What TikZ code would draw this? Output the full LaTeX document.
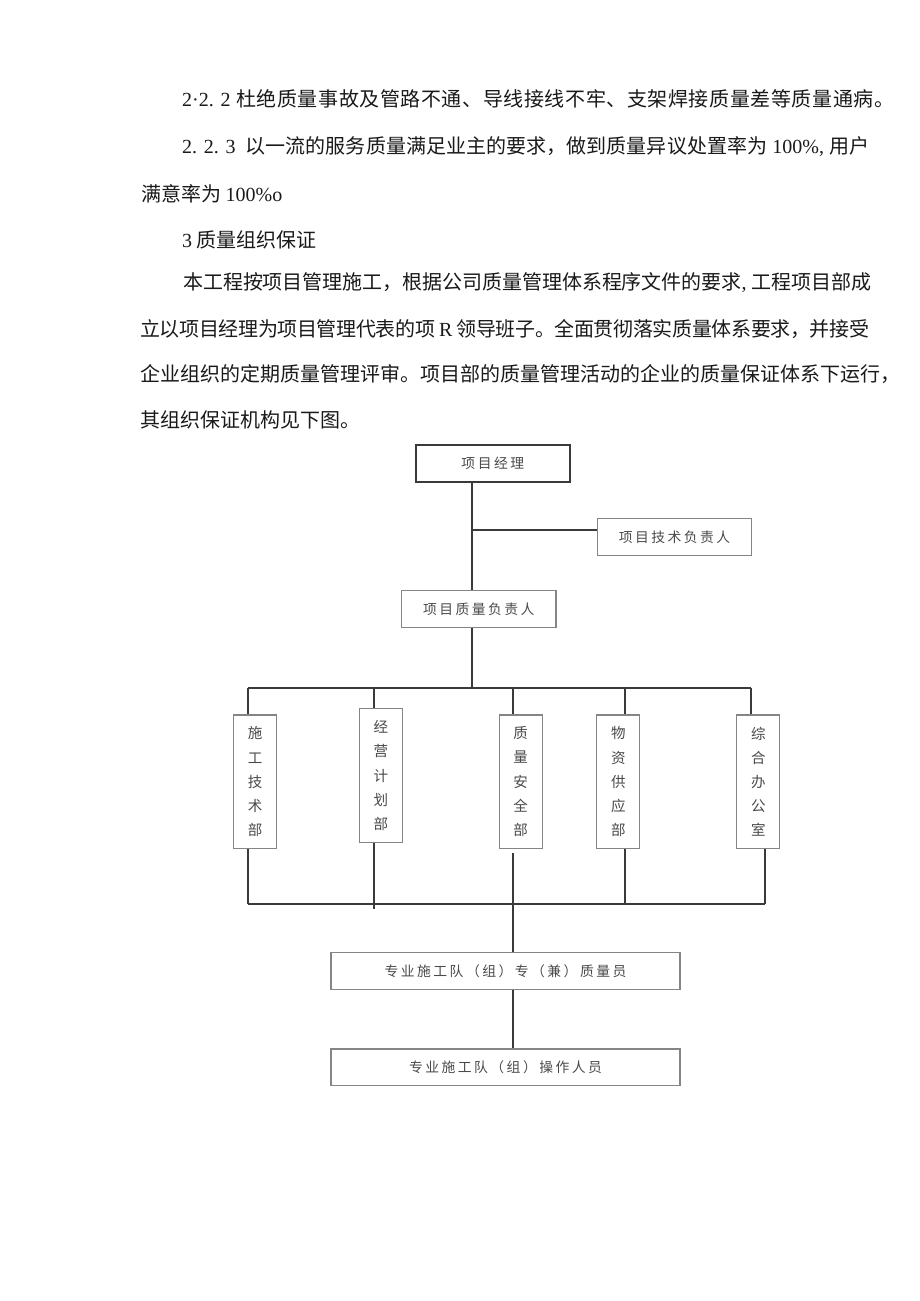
\documentclass[tikz,border=0pt]{standalone}
\usepackage{fontspec}
\newfontfamily\cjk{Noto Sans CJK SC}
\newfontfamily\chartfont[LetterSpace=18]{Noto Sans CJK SC}
\newfontfamily\lat{Liberation Serif}
\definecolor{txt}{HTML}{1A1A1A}
\definecolor{ctxt}{HTML}{4A4A4A}
\definecolor{line}{HTML}{3A3A3A}
\definecolor{bord}{HTML}{858585}
\makeatletter
\newcommand\spreadline[2]{\hbox to #1{\@tfor\sx:=#2\do{{\sx}\hskip 0pt plus 1fil minus 1pt}\unskip}}
\makeatother
\tikzset{
  para/.style={anchor=west,inner sep=0pt,text=txt,font=\cjk\fontsize{20}{24}\selectfont},
  hbox/.style={draw=bord,line width=1.3pt,minimum width=154.4pt,minimum height=36.6pt,inner sep=0pt,text=ctxt,font=\chartfont\fontsize{13.8}{16}\selectfont},
  vbox/.style={draw=bord,line width=1.3pt,minimum width=43pt,minimum height=133.4pt,inner sep=0pt,text=ctxt,align=center,font=\chartfont\fontsize{14.5}{24.2}\selectfont},
  wbox/.style={hbox,minimum width=349pt},
  conn/.style={draw=line,line width=2pt}
}
\begin{document}
\begin{tikzpicture}[x=1pt,y=-1pt]
\useasboundingbox[fill=white] (0,0) rectangle (920,1301);
% paragraph text
\node[para] (l1) at (182,99) {\spreadline{712pt}{{\lat 2·2. 2\ }杜绝质量事故及管路不通、导线接线不牢、支架焊接质量差等质量通病。}};
\node[para] (l2) at (182,147) {\spreadline{687pt}{{\lat 2. 2. 3\ \ }以一流的服务质量满足业主的要求，做到质量异议处置率为{\lat\ 100\%,\ }用户}};
\node[para] (l3) at (141,194) {满意率为 {\lat 100\%o}};
\node[para] (l4) at (182,240) {{\lat 3} 质量组织保证};
\node[para] (l5) at (183,283) {\spreadline{688pt}{本工程按项目管理施工，根据公司质量管理体系程序文件的要求{\lat,\ }工程项目部成}};
\node[para] (l6) at (140,329) {\spreadline{729pt}{立以项目经理为项目管理代表的项{\lat\ R\ }领导班子。全面贯彻落实质量体系要求，并接受}};
\node[para] (l7) at (140,374) {\spreadline{760pt}{企业组织的定期质量管理评审。项目部的质量管理活动的企业的质量保证体系下运行，}};
\node[para] (l8) at (140,420) {其组织保证机构见下图。};
% chart boxes
\node[hbox,draw=line,line width=1.8pt] (pm) at (492.8,463.5) {项目经理};
\node[hbox] (tech) at (674.5,537) {项目技术负责人};
\node[hbox] (qm) at (478.8,609) {项目质量负责人};
\node[vbox] (d1) at (255.2,781.7) {施\\工\\技\\术\\部};
\node[vbox] (d2) at (380.8,775.5) {经\\营\\计\\划\\部};
\node[vbox] (d3) at (520.7,781.7) {质\\量\\安\\全\\部};
\node[vbox] (d4) at (618.3,781.7) {物\\资\\供\\应\\部};
\node[vbox] (d5) at (758.3,781.7) {综\\合\\办\\公\\室};
\node[wbox] (t1) at (505.5,971) {专业施工队（组）专（兼）质量员};
\node[wbox] (t2) at (505.5,1067.3) {专业施工队（组）操作人员};
% junction coordinates
\coordinate (jt) at (472,530);
\coordinate (jq) at (472,688);
\coordinate (tb1) at (248,688);
\coordinate (tb2) at (374,688);
\coordinate (tb3) at (513,688);
\coordinate (tb4) at (625,688);
\coordinate (tb5) at (751,688);
\coordinate (bb1) at (248,904);
\coordinate (bb2) at (374,909);
\coordinate (bb4) at (625,904);
\coordinate (bb5) at (765,904);
\coordinate (d3s) at (513,853);
% connectors
\draw[conn] (pm.south -| jt) -- (qm.north -| jt);
\draw[conn] (jt) -- (tech.west |- jt);
\draw[conn] (qm.south -| jq) -- (jq);
\draw[conn] (tb1) -- (tb5);
\draw[conn] (tb1) -- (d1.north -| tb1);
\draw[conn] (tb2) -- (d2.north -| tb2);
\draw[conn] (tb3) -- (d3.north -| tb3);
\draw[conn] (tb4) -- (d4.north -| tb4);
\draw[conn] (tb5) -- (d5.north -| tb5);
\draw[conn] (bb1) -- (bb5);
\draw[conn] (d1.south -| bb1) -- (bb1);
\draw[conn] (d2.south -| bb2) -- (bb2);
\draw[conn] (d3s) -- (t1.north -| d3s);
\draw[conn] (d4.south -| bb4) -- (bb4);
\draw[conn] (d5.south -| bb5) -- (bb5);
\draw[conn] (t1.south -| d3s) -- (t2.north -| d3s);
\end{tikzpicture}
\end{document}
